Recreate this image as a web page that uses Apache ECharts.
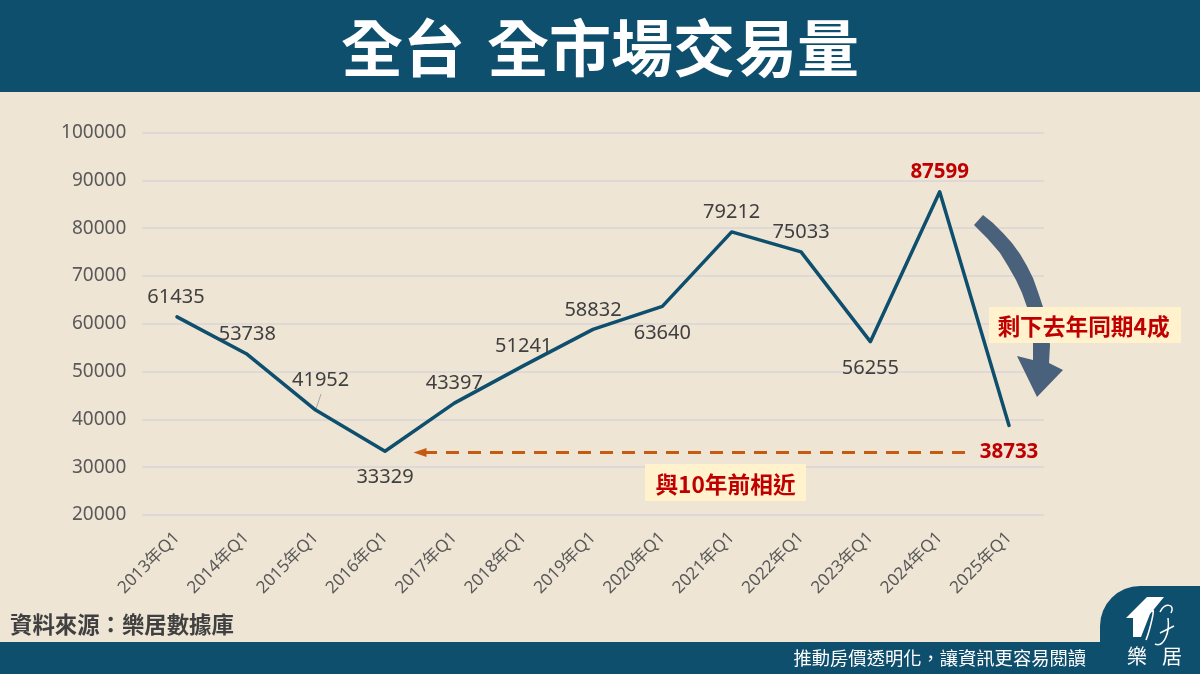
<!DOCTYPE html>
<html>
<head>
<meta charset="utf-8">
<style>
  html, body { margin: 0; padding: 0; background: #efe5d5; }
  #chart { width: 1200px; height: 674px; }
</style>
<script src="https://cdn.jsdelivr.net/npm/echarts@6/dist/echarts.min.js"></script>
</head>
<body>
<div id="chart"></div>
<script>
// chart values
const quarters = ["2013年Q1", "2014年Q1", "2015年Q1", "2016年Q1", "2017年Q1", "2018年Q1", "2019年Q1",
  "2020年Q1", "2021年Q1", "2022年Q1", "2023年Q1", "2024年Q1", "2025年Q1"];
const volumes = [61435, 53738, 41952, 33329, 43397, 51241, 58832, 63640, 79212, 75033, 56255, 87599, 38733];
const highlighted = ["2024年Q1", "2025年Q1"];

// label nudges in pixels, one per point
const labelShift = [[-1, 0], [1, 0], [5, -10], [0, 46], [0, 0], [0, 0], [0, 0], [0, 46], [0, 0], [0, 0], [0, 46], [0, 0], [0, 46]];

const NAVY = "#0f4f6e";
const RED = "#c00000";
const SANS = '"Noto Sans", "Noto Sans CJK TC", sans-serif';
const CJK = '"Noto Sans CJK TC", sans-serif';

let chart = echarts.init(document.getElementById("chart"), null, { renderer: "canvas" });

let points = volumes.map((v, i) => {
  let hot = highlighted.includes(quarters[i]);
  return {
    value: v,
    label: {
      offset: labelShift[i],
      color: hot ? RED : "#404040",
      fontWeight: hot ? "bold" : "normal",
      fontSize: hot ? 20.5 : 20
    }
  };
});

let titleShadow = { shadowColor: "rgba(0,0,0,0.55)", shadowBlur: 3, shadowOffsetX: 2, shadowOffsetY: 2 };

let graphics = [
  // header and footer bands
  { type: "rect", z: 0, shape: { x: 0, y: 0, width: 1200, height: 92 }, style: { fill: NAVY } },
  { type: "rect", z: 0, shape: { x: 0, y: 642, width: 1200, height: 32 }, style: { fill: NAVY } },
  { type: "text", z: 5, x: 341, y: 48, style: { text: "全台", fill: "#fff", font: "bold 62px " + CJK,
    align: "left", verticalAlign: "middle", ...titleShadow } },
  { type: "text", z: 5, x: 487, y: 48, style: { text: "全市場交易量", fill: "#fff", font: "bold 62px " + CJK,
    align: "left", verticalAlign: "middle", ...titleShadow } },
  { type: "text", z: 5, x: 10, y: 624, style: { text: "資料來源：樂居數據庫", fill: "#404040", font: "bold 22.4px " + CJK,
    align: "left", verticalAlign: "middle" } },
  { type: "text", z: 5, x: 1086, y: 658, style: { text: "推動房價透明化，讓資訊更容易閱讀", fill: "#fff", font: "18.3px " + CJK,
    align: "right", verticalAlign: "middle" } },

  // logo tab
  { type: "rect", z: 1, shape: { x: 1100, y: 586, width: 100, height: 60, r: [40, 0, 0, 0] }, style: { fill: NAVY } },
  { type: "polygon", z: 6, shape: { points: [[1126, 618], [1147, 597], [1164, 597], [1150, 614], [1141, 637], [1133, 637], [1133, 618]] }, style: { fill: "#fff" } },
  { type: "bezierCurve", z: 6, shape: { x1: 1146, y1: 640, cpx1: 1150, cpy1: 630, cpx2: 1156, cpy2: 604, x2: 1152, y2: 612 }, style: { fill: "none", stroke: "#fff", lineWidth: 1.5 } },
  { type: "bezierCurve", z: 6, shape: { x1: 1160, y1: 612, cpx1: 1164, cpy1: 602, cpx2: 1176, cpy2: 604, x2: 1171, y2: 613 }, style: { fill: "none", stroke: "#fff", lineWidth: 1.5 } },
  { type: "bezierCurve", z: 6, shape: { x1: 1168, y1: 618, cpx1: 1170, cpy1: 632, cpx2: 1164, cpy2: 648, x2: 1155, y2: 644 }, style: { fill: "none", stroke: "#fff", lineWidth: 1.5 } },
  { type: "line", z: 6, shape: { x1: 1160, y1: 633, x2: 1174, y2: 626 }, style: { stroke: "#fff", lineWidth: 1.5 } },
  { type: "text", z: 6, x: 1137, y: 656, style: { text: "樂", fill: "#fff", font: "20px " + CJK, align: "center", verticalAlign: "middle" } },
  { type: "text", z: 6, x: 1172, y: 656, style: { text: "居", fill: "#fff", font: "20px " + CJK, align: "center", verticalAlign: "middle" } },

  // curved arrow
  { type: "polygon", z: 3, shape: { points: [[983, 215], [993, 223], [1003, 233], [1012, 243], [1020, 254], [1027, 266], [1033, 278], [1038, 292],
    [1043, 307], [1046, 318], [1048, 328], [1050, 345], [1049, 363], [1063, 370], [1037, 397], [1017, 356], [1033, 360], [1033, 343],
    [1031, 328], [1027, 307], [1022, 293], [1016, 280], [1008, 266], [1000, 253], [994, 246], [987, 238], [974, 225]] },
    style: { fill: "#4a617b" } },

  // callouts
  { type: "rect", z: 4, shape: { x: 989, y: 307, width: 192, height: 36 }, style: { fill: "#fff2cc" } },
  { type: "text", z: 5, x: 1083.5, y: 326, style: { text: "剩下去年同期4成", fill: RED, font: "bold 22.7px " + CJK, align: "center", verticalAlign: "middle" } },
  { type: "rect", z: 4, shape: { x: 645, y: 464, width: 161, height: 37 }, style: { fill: "#fff2cc" } },
  { type: "text", z: 5, x: 725.5, y: 484, style: { text: "與10年前相近", fill: RED, font: "bold 22.7px " + CJK, align: "center", verticalAlign: "middle" } },

  // leader line of the 2015 label
  { type: "line", z: 3, shape: { x1: 321, y1: 394, x2: 316, y2: 409 }, style: { stroke: "#a8a8a8", lineWidth: 1 } }
];

chart.setOption({
  backgroundColor: "#efe5d5",
  animation: false,
  textStyle: { fontFamily: SANS },
  grid: { left: 142.3, right: 156.3, top: 132.5, bottom: 159 },
  xAxis: {
    type: "category",
    data: quarters,
    axisLine: { show: false },
    axisTick: { show: false },
    axisLabel: { rotate: 45, color: "#595959", fontSize: 17, fontFamily: SANS, margin: 20, interval: 0 }
  },
  yAxis: {
    type: "value",
    min: 20000,
    max: 100000,
    interval: 10000,
    axisLine: { show: false },
    axisTick: { show: false },
    axisLabel: { color: "#595959", fontSize: 19, fontFamily: SANS, margin: 16, formatter: (v) => String(v) },
    splitLine: { lineStyle: { color: "#d9d4d6", width: 1.5 } }
  },
  series: [{
    type: "line",
    data: points,
    symbol: "circle",
    symbolSize: 1,
    showSymbol: true,
    showAllSymbol: true,
    itemStyle: { color: NAVY },
    smooth: false,
    lineStyle: { color: NAVY, width: 3.5, cap: "round", join: "round" },
    label: { show: true, position: "top", distance: 9, fontFamily: SANS },
    markLine: {
      silent: true,
      animation: false,
      symbol: ["none", "triangle"],
      symbolSize: [9, 13],
      label: { show: false },
      lineStyle: { color: "#c55a11", width: 3, type: [13, 9] },
      emphasis: { disabled: true },
      data: [[{ x: 965, y: 452.5 }, { x: 420, y: 452.5 }]]
    }
  }],
  graphic: graphics
});
</script>
</body>
</html>
